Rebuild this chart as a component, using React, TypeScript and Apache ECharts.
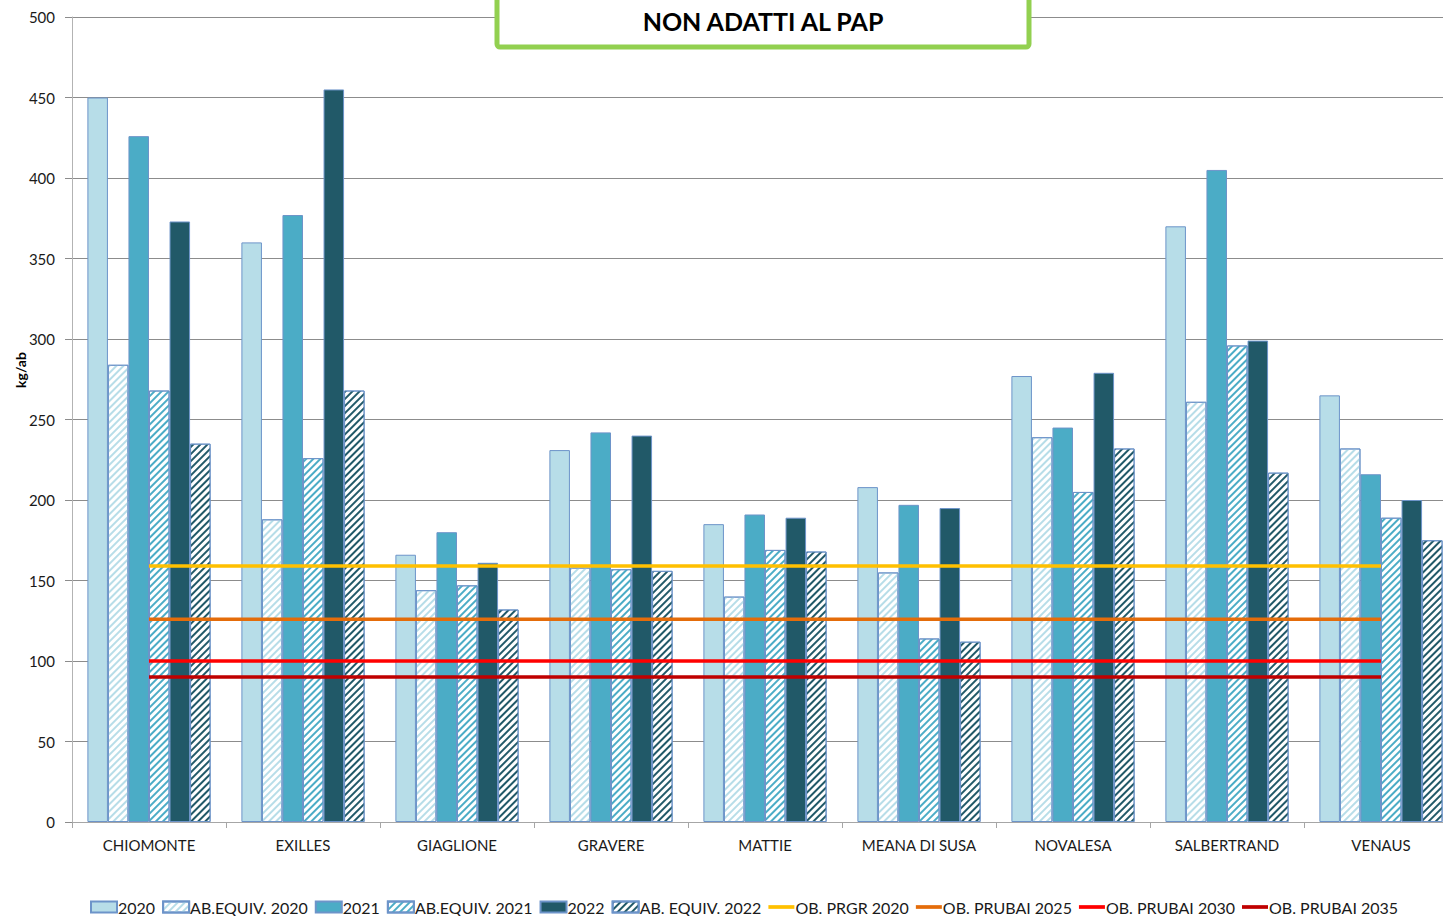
import React, { useEffect, useRef } from "react";
import * as echarts from "echarts";

const categories = ["CHIOMONTE", "EXILLES", "GIAGLIONE", "GRAVERE", "MATTIE", "MEANA DI SUSA", "NOVALESA", "SALBERTRAND", "VENAUS"];
const v2020 = [450, 360, 166, 231, 185, 208, 277, 370, 265];
const ab2020 = [284, 188, 144, 158, 140, 155, 239, 261, 232];
const v2021 = [426, 377, 180, 242, 191, 197, 245, 405, 216];
const ab2021 = [268, 226, 147, 157, 169, 114, 205, 296, 189];
const v2022 = [373, 455, 161, 240, 189, 195, 279, 299, 200];
const ab2022 = [235, 268, 132, 156, 168, 112, 232, 217, 175];
const obPrgr2020 = [159, 159, 159, 159, 159, 159, 159, 159, 159];
const obPrubai2025 = [126, 126, 126, 126, 126, 126, 126, 126, 126];
const obPrubai2030 = [100, 100, 100, 100, 100, 100, 100, 100, 100];
const obPrubai2035 = [90, 90, 90, 90, 90, 90, 90, 90, 90];

const FONT = "Lato, 'Open Sans', sans-serif";
const BORDER = "#6d94c9";
const LINE_ICON = "path://M0,0 H28 V4 H0 Z";

function solidBar(name: string, data: number[], color: string) {
  return {
    name,
    type: "bar",
    data,
    barGap: "0%",
    barCategoryGap: "20%",
    itemStyle: { color, borderColor: BORDER, borderWidth: 1 },
  };
}

function hatchBar(name: string, data: number[], color: string) {
  return {
    name,
    type: "bar",
    data,
    barGap: "0%",
    barCategoryGap: "20%",
    itemStyle: {
      color: "#ffffff",
      borderColor: BORDER,
      borderWidth: 1,
      decal: {
        symbol: "rect",
        symbolSize: 1,
        color,
        dashArrayX: [1, 0],
        dashArrayY: [2, 2.4],
        rotation: -Math.PI / 4,
      },
    },
  };
}

function lineSeries(name: string, data: number[], color: string) {
  return {
    name,
    type: "line",
    data,
    symbol: "none",
    z: 5,
    lineStyle: { color, width: 3.5 },
    itemStyle: { color },
  };
}

const barNames = ["2020", "AB.EQUIV. 2020", "2021", "AB.EQUIV. 2021", "2022", "AB. EQUIV. 2022"];
const lineNames = ["OB. PRGR 2020", "OB. PRUBAI 2025", "OB. PRUBAI 2030", "OB. PRUBAI 2035"];

export default function App() {
  const ref = useRef<HTMLDivElement>(null);
  useEffect(() => {
    if (!ref.current) return;
    document.documentElement.style.overflow = "hidden";
    document.body.style.overflow = "hidden";
    const chart = echarts.init(ref.current, undefined, { renderer: "svg" });
    chart.setOption({
      animation: false,
      textStyle: { fontFamily: FONT },
      grid: { left: 72, right: 0, top: 17, bottom: 94 },
      legend: {
        top: 899,
        left: 90,
        padding: 0,
        itemWidth: 26,
        itemHeight: 11,
        itemGap: 7,
        textStyle: { fontFamily: FONT, fontSize: 16, color: "#1a1a1a", padding: [0, 0, 0, -4] },
        data: [
          ...barNames.map((n) => ({ name: n, icon: "rect" })),
          ...lineNames.map((n) => ({ name: n, icon: LINE_ICON })),
        ],
      },
      xAxis: {
        type: "category",
        data: categories,
        boundaryGap: true,
        axisLine: { lineStyle: { color: "#a6a6a6", width: 1 } },
        axisTick: { show: true, length: 6, lineStyle: { color: "#a6a6a6" } },
        axisLabel: { fontFamily: FONT, fontSize: 15, color: "#1a1a1a", margin: 15 },
      },
      yAxis: {
        type: "value",
        min: 0,
        max: 500,
        interval: 50,
        axisLine: { show: true, lineStyle: { color: "#b3b3b3" } },
        axisTick: { show: true, length: 7, lineStyle: { color: "#8c8c8c" } },
        axisLabel: { fontFamily: FONT, fontSize: 15, color: "#1a1a1a", margin: 17 },
        splitLine: { lineStyle: { color: "#8c8c8c", width: 1 } },
      },
      series: [
        solidBar(barNames[0], v2020, "#b7dde8"),
        hatchBar(barNames[1], ab2020, "#b7dde8"),
        solidBar(barNames[2], v2021, "#4bacc6"),
        hatchBar(barNames[3], ab2021, "#4bacc6"),
        solidBar(barNames[4], v2022, "#215968"),
        hatchBar(barNames[5], ab2022, "#215968"),
        lineSeries(lineNames[0], obPrgr2020, "#ffc000"),
        lineSeries(lineNames[1], obPrubai2025, "#e46c0a"),
        lineSeries(lineNames[2], obPrubai2030, "#ff0000"),
        lineSeries(lineNames[3], obPrubai2035, "#c00000"),
      ],
      graphic: [
        {
          type: "rect",
          x: 497,
          y: -6,
          z: 100,
          shape: { x: 0, y: 0, width: 532, height: 53, r: 3 },
          style: { fill: "#ffffff", stroke: "#92d050", lineWidth: 5 },
        },
        {
          type: "text",
          x: 763,
          y: 21,
          z: 101,
          style: {
            text: "NON ADATTI AL PAP",
            font: `bold 25px ${FONT}`,
            fill: "#000",
            align: "center",
            verticalAlign: "middle",
          },
        },
        {
          type: "text",
          x: 20,
          y: 370,
          rotation: Math.PI / 2,
          z: 101,
          style: {
            text: "kg/ab",
            font: `bold 14px ${FONT}`,
            fill: "#000",
            align: "center",
            verticalAlign: "middle",
          },
        },
      ],
    });
    return () => chart.dispose();
  }, []);
  return (
    <div
      ref={ref}
      style={{ position: "absolute", left: 0, top: 0, width: 1458, height: 916 }}
    />
  );
}
